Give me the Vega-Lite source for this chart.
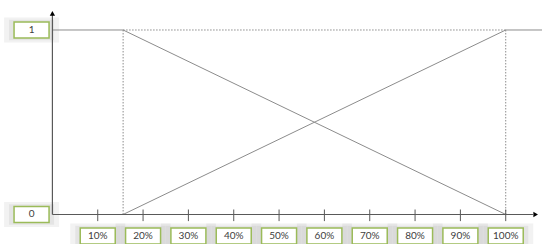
{
  "$schema": "https://vega.github.io/schema/vega-lite/v6.json",
  "width": 542,
  "height": 244,
  "padding": 0,
  "autosize": {"type": "none"},
  "background": "white",
  "config": {"view": {"stroke": null}},
  "datasets": {
    "solid": [
      {"x": 0, "y": 1, "x2": 15.6, "y2": 1},
      {"x": 100, "y": 1, "x2": 108, "y2": 1},
      {"x": 15.6, "y": 1, "x2": 100, "y2": 0},
      {"x": 15.6, "y": 0, "x2": 100, "y2": 1}
    ],
    "dotted": [
      {"x": 15.6, "y": 1, "x2": 100, "y2": 1},
      {"x": 15.6, "y": 0, "x2": 15.6, "y2": 1},
      {"x": 100, "y": 0, "x2": 100, "y2": 1}
    ],
    "axes": [
      {"x": 0, "y": 0, "x2": 0, "y2": 1.085},
      {"x": 0, "y": 0, "x2": 106, "y2": 0}
    ],
    "arrows": [
      {"x": 0, "y": 1.09, "dir": "up"},
      {"x": 106.6, "y": 0, "dir": "right"}
    ],
    "xlabels": [
      {"v": 10, "text": "10%"}, {"v": 20, "text": "20%"}, {"v": 30, "text": "30%"},
      {"v": 40, "text": "40%"}, {"v": 50, "text": "50%"}, {"v": 60, "text": "60%"},
      {"v": 70, "text": "70%"}, {"v": 80, "text": "80%"}, {"v": 90, "text": "90%"},
      {"v": 100, "text": "100%"}
    ],
    "ylabels": [
      {"v": 1, "text": "1"}, {"v": 0, "text": "0"}
    ]
  },
  "layer": [
    {
      "data": {"name": "xlabels"},
      "mark": {"type": "point", "filled": true, "shape": "M-1,-0.457L1,-0.457L1,0.457L-1,0.457Z", "color": "#808080", "opacity": 0.1, "size": 3025},
      "encoding": {
        "x": {"field": "v", "type": "quantitative", "scale": {"domain": [-11.56, 108.0], "nice": false, "zero": false}, "axis": null},
        "y": {"datum": -0.1165, "type": "quantitative", "scale": {"domain": [-0.16, 1.1626], "nice": false, "zero": false}, "axis": null}
      }
    },
    {
      "data": {"name": "xlabels"},
      "mark": {"type": "point", "filled": true, "shape": "M-1,-0.457L1,-0.457L1,0.457L-1,0.457Z", "color": "#808080", "opacity": 0.12, "size": 2025},
      "encoding": {
        "x": {"field": "v", "type": "quantitative"},
        "y": {"datum": -0.1165, "type": "quantitative"}
      }
    },
    {
      "data": {"name": "ylabels"},
      "mark": {"type": "point", "filled": true, "shape": "M-1,-0.457L1,-0.457L1,0.457L-1,0.457Z", "color": "#808080", "opacity": 0.1, "size": 3025},
      "encoding": {
        "x": {"datum": -4.6, "type": "quantitative"},
        "y": {"field": "v", "type": "quantitative"}
      }
    },
    {
      "data": {"name": "ylabels"},
      "mark": {"type": "point", "filled": true, "shape": "M-1,-0.457L1,-0.457L1,0.457L-1,0.457Z", "color": "#808080", "opacity": 0.12, "size": 2025},
      "encoding": {
        "x": {"datum": -4.6, "type": "quantitative"},
        "y": {"field": "v", "type": "quantitative"}
      }
    },
    {
      "data": {"name": "solid"},
      "mark": {"type": "rule", "color": "#8c8c8c", "strokeWidth": 1},
      "encoding": {
        "x": {"field": "x", "type": "quantitative"},
        "y": {"field": "y", "type": "quantitative"},
        "x2": {"field": "x2"},
        "y2": {"field": "y2"}
      }
    },
    {
      "data": {"name": "dotted"},
      "mark": {"type": "rule", "color": "#8c8c8c", "strokeWidth": 1, "strokeDash": [1.5, 1.5]},
      "encoding": {
        "x": {"field": "x", "type": "quantitative"},
        "y": {"field": "y", "type": "quantitative"},
        "x2": {"field": "x2"},
        "y2": {"field": "y2"}
      }
    },
    {
      "data": {"name": "axes"},
      "mark": {"type": "rule", "color": "#595959", "strokeWidth": 1.2},
      "encoding": {
        "x": {"field": "x", "type": "quantitative"},
        "y": {"field": "y", "type": "quantitative"},
        "x2": {"field": "x2"},
        "y2": {"field": "y2"}
      }
    },
    {
      "data": {"name": "xlabels"},
      "mark": {"type": "rule", "color": "#595959", "strokeWidth": 1},
      "encoding": {
        "x": {"field": "v", "type": "quantitative"},
        "y": {"datum": -0.036, "type": "quantitative"},
        "y2": {"datum": 0.027}
      }
    },
    {
      "data": {"name": "arrows"},
      "mark": {"type": "point", "filled": true, "color": "#000000", "size": 28, "opacity": 1},
      "encoding": {
        "x": {"field": "x", "type": "quantitative"},
        "y": {"field": "y", "type": "quantitative"},
        "shape": {"field": "dir", "type": "nominal", "scale": {"domain": ["up", "right"], "range": ["triangle-up", "triangle-right"]}, "legend": null}
      }
    },
    {
      "data": {"name": "xlabels"},
      "mark": {"type": "point", "filled": false, "shape": "M-1,-0.457L1,-0.457L1,0.457L-1,0.457Z", "stroke": "#9bbb59", "fill": "white", "fillOpacity": 1, "strokeWidth": 1.5, "opacity": 1, "size": 1225},
      "encoding": {
        "x": {"field": "v", "type": "quantitative"},
        "y": {"datum": -0.1165, "type": "quantitative"}
      }
    },
    {
      "data": {"name": "ylabels"},
      "mark": {"type": "point", "filled": false, "shape": "M-1,-0.457L1,-0.457L1,0.457L-1,0.457Z", "stroke": "#9bbb59", "fill": "white", "fillOpacity": 1, "strokeWidth": 1.5, "opacity": 1, "size": 1225},
      "encoding": {
        "x": {"datum": -4.6, "type": "quantitative"},
        "y": {"field": "v", "type": "quantitative"}
      }
    },
    {
      "data": {"name": "xlabels"},
      "mark": {"type": "text", "font": "Lato", "fontSize": 10, "color": "#404040", "baseline": "middle", "align": "center"},
      "encoding": {
        "x": {"field": "v", "type": "quantitative"},
        "y": {"datum": -0.1165, "type": "quantitative"},
        "text": {"field": "text"}
      }
    },
    {
      "data": {"name": "ylabels"},
      "mark": {"type": "text", "font": "Lato", "fontSize": 10, "color": "#404040", "baseline": "middle", "align": "center"},
      "encoding": {
        "x": {"datum": -4.6, "type": "quantitative"},
        "y": {"field": "v", "type": "quantitative"},
        "text": {"field": "text"}
      }
    }
  ]
}
